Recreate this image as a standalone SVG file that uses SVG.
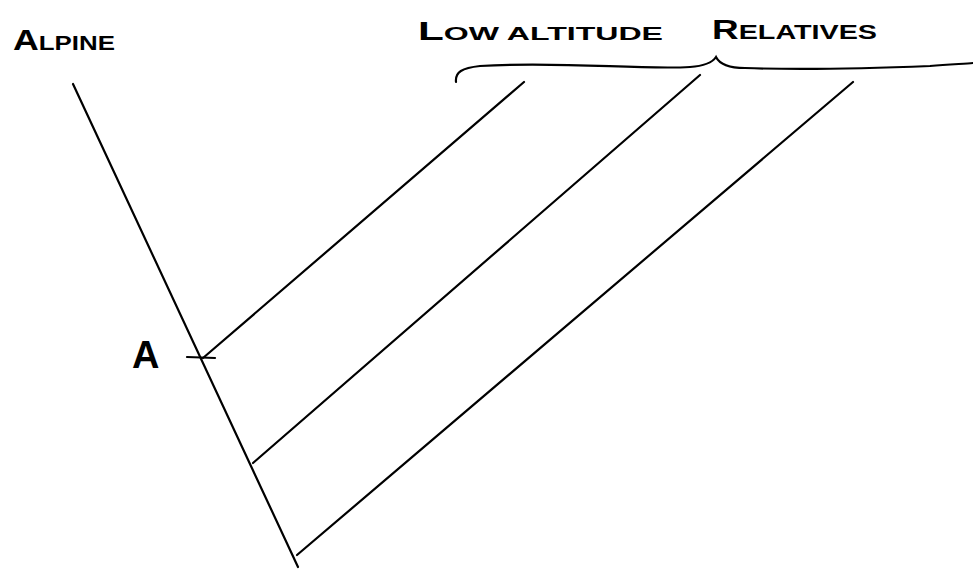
<svg xmlns="http://www.w3.org/2000/svg" width="973" height="576" viewBox="0 0 973 576">
<style>
.ln{stroke:#000;stroke-width:2.2;fill:none;stroke-linecap:round}
.lbl{font-family:"Liberation Sans",Arial,sans-serif;fill:#000;font-weight:bold}
</style>
<rect width="973" height="576" fill="#fff"/>
<g id="label-alpine"><text class="lbl" x="13" y="50" font-size="21" textLength="102" lengthAdjust="spacingAndGlyphs"><tspan font-size="29">A</tspan>LPINE</text></g>
<g id="label-low"><text class="lbl" x="418" y="40" font-size="19" textLength="245" lengthAdjust="spacingAndGlyphs"><tspan font-size="25">L</tspan>OW ALTITUDE</text></g>
<g id="label-rel"><text class="lbl" x="712" y="39" font-size="21" textLength="165" lengthAdjust="spacingAndGlyphs"><tspan font-size="27">R</tspan>ELATIVES</text></g>
<g id="brace"><path class="ln" d="M456,82 C455,72 462,68 480,66 C560,61 640,70 690,67 C704,66 712,63 716,57 C719,63 726,68 745,68 C800,70 880,68 930,66 C950,64 965,64 973,63"/></g>
<g id="label-A"><text x="132" y="368" font-family="'Liberation Sans',Arial,sans-serif" font-size="38" font-weight="bold">A</text></g>
<g id="connectors">
<path class="ln" d="M73,84 L298,567"/>
<path class="ln" d="M524,82 L203,358"/>
<path class="ln" d="M700,75 L253,463"/>
<path class="ln" d="M853,82 L297,555"/>
<path class="ln" d="M187,357 L215,358" stroke-width="3.2"/>
</g>
</svg>
